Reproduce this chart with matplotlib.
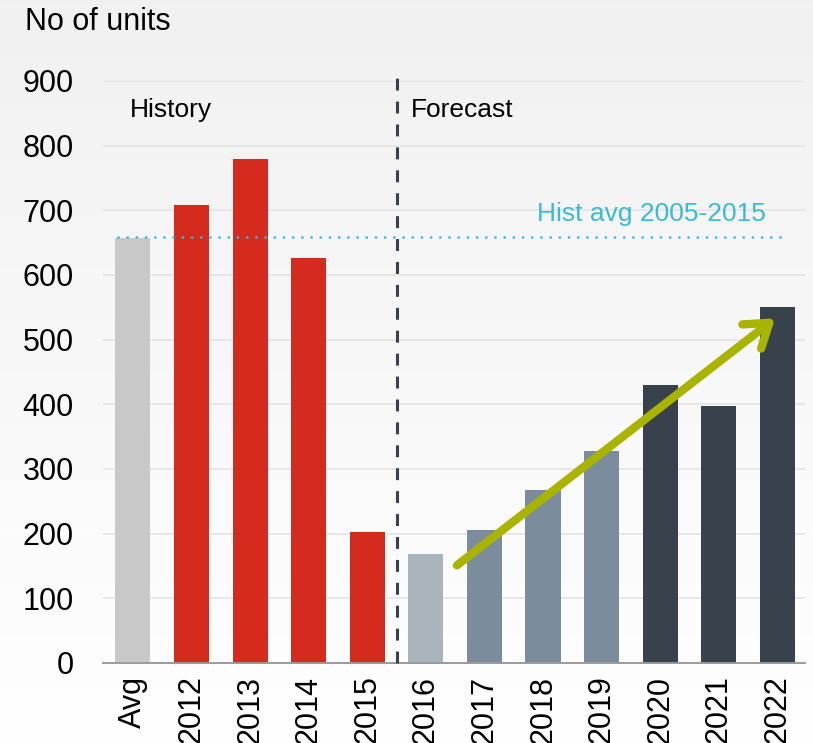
import numpy as np
import matplotlib
matplotlib.use("Agg")
import matplotlib.pyplot as plt

plt.rcParams.update({
    "font.family": ["Liberation Sans", "DejaVu Sans"],
    "font.size": 22,
})

# ---------------- data ----------------
categories = ["Avg", "2012", "2013", "2014", "2015", "2016",
              "2017", "2018", "2019", "2020", "2021", "2022"]
units = [657, 709, 780, 627, 202, 168, 205, 267, 328, 430, 397, 550]
bar_colors = ["#c8c8c8"] + ["#d52b1e"] * 4 + ["#aab4bd"] + ["#7b8d9c"] * 3 + ["#37424c"] * 3
hist_avg = 658
hist_avg_label = "Hist avg 2005-2015"
yticks = [0, 100, 200, 300, 400, 500, 600, 700, 800, 900]
trend_start = (5.53, 151)
trend_end = (10.96, 533)

# ---------------- figure ----------------
fig = plt.figure(figsize=(8.13, 7.43), dpi=100)

# light grey gradient background
bg = fig.add_axes([0, 0, 1, 1], zorder=-10)
grad = np.linspace(0.945, 1.0, 256).reshape(-1, 1)
bg.imshow(np.dstack([grad, grad, grad]), aspect="auto", extent=[0, 1, 0, 1])
bg.axis("off")

ax = fig.add_axes([103 / 813, 1 - 663 / 743, (805 - 103) / 813, (663 - 81) / 743])
ax.set_facecolor("none")

x = np.arange(len(categories))
ax.bar(x, units, width=0.6, color=bar_colors, zorder=3)

ax.set_xlim(-0.51, 11.47)
ax.set_ylim(0, 900)
ax.set_yticks(yticks)
ax.set_xticks(x)
ax.set_xticklabels(categories, rotation=90)
ax.tick_params(axis="both", length=0)
ax.tick_params(axis="y", pad=21)
ax.tick_params(axis="x", pad=9)
ax.grid(axis="y", color="#e2e2e2", linewidth=1.1, zorder=0)
for s in ["top", "right", "left"]:
    ax.spines[s].set_visible(False)
ax.spines["bottom"].set_color("#9a9a9a")
ax.spines["bottom"].set_linewidth(1.4)
ax.spines["bottom"].set_zorder(4)

# history / forecast divider
ax.plot([4.5, 4.5], [0, 905], color="#37424c", linewidth=2.2,
        linestyle=(0, (3.9, 3.6)), clip_on=False, zorder=5)
ax.text(-0.05, 855, "History", fontsize=19, ha="left", va="center")
ax.text(4.74, 855, "Forecast", fontsize=19, ha="left", va="center")

# historic average
ax.plot([-0.26, 11.16], [hist_avg, hist_avg], color="#3cb9d3", linewidth=2.0,
        linestyle=(0, (0.01, 3.3)), dash_capstyle="round", zorder=4)
ax.text(10.8, 695, hist_avg_label, fontsize=19, color="#3cb9d3",
        ha="right", va="center")

# trend arrow
ax.annotate("", xy=trend_end, xytext=trend_start,
            arrowprops=dict(arrowstyle="->,head_length=1.6,head_width=1.1",
                            lw=6, color="#a8b400", capstyle="round",
                            joinstyle="round", shrinkA=0, shrinkB=0,
                            mutation_scale=10),
            zorder=6)

fig.text(25 / 813, 1 - 22 / 743, "No of units", fontsize=22, ha="left", va="center")

fig.savefig("out.png", dpi=100)
